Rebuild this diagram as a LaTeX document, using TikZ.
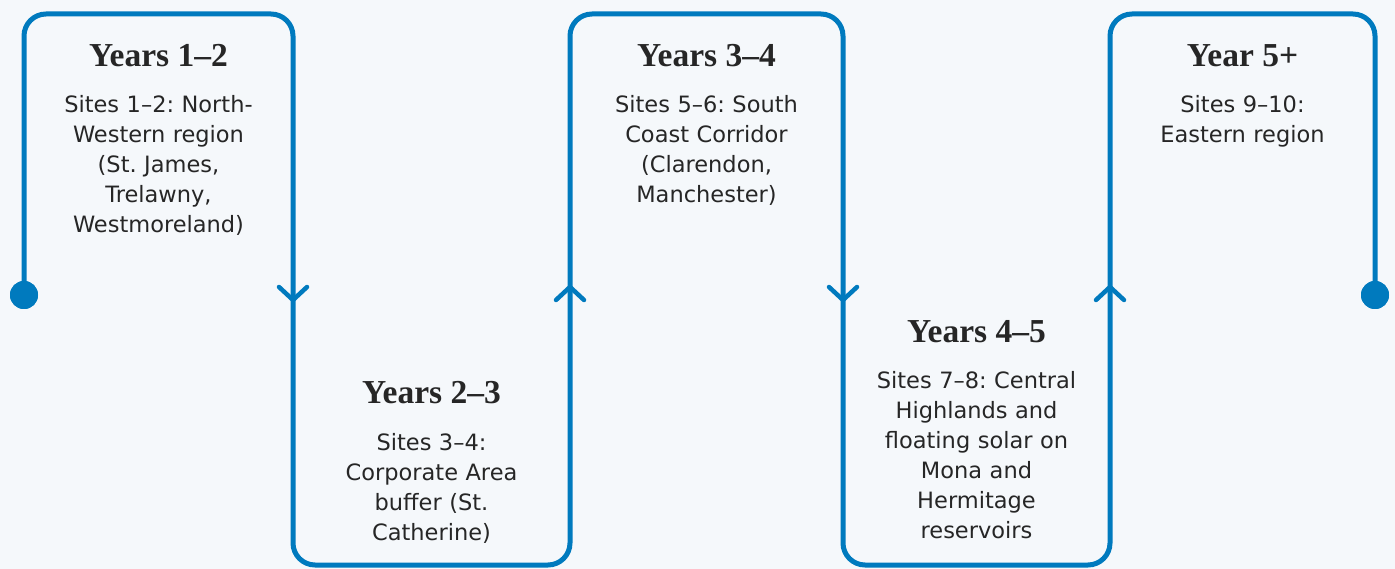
\documentclass[tikz,border=0pt]{standalone}
\usepackage{fontspec}
\newfontfamily\headfont{Liberation Serif}
\newfontfamily\sitefont{DejaVu Sans}
\definecolor{routeblue}{HTML}{007ABE}
\definecolor{inkgray}{HTML}{262626}
\definecolor{paper}{HTML}{F5F8FB}
\frenchspacing

\begin{document}
\begin{tikzpicture}[x=1pt, y=-1pt,
	route/.style={line width=5pt, draw=routeblue, rounded corners=22pt, line cap=round},
	chev/.style={line width=4.5pt, draw=routeblue, line cap=round, line join=round},
	endpt/.style={circle, fill=routeblue, inner sep=0pt, minimum size=28pt},
	phase/.style={font=\headfont\bfseries\fontsize{33.5}{36}\selectfont, text=inkgray, anchor=base, inner sep=0pt},
	sites/.style={font=\sitefont\fontsize{22.5}{30}\selectfont, text=inkgray, align=center, text width=260pt, anchor=base, inner sep=0pt},
	flowdown/.pic={\draw[chev] (-14,-13) -- (0,0) -- (14,-13);},
	flowup/.pic={\draw[chev] (-14,13) -- (0,0) -- (14,13);},
]
	% canvas
	\fill[paper] (0,0) rectangle (1395,569);
	\useasboundingbox (0,0) rectangle (1395,569);

	% end points and bends of the route
	\node[endpt] (start) at (24,295) {};
	\node[endpt] (finish) at (1375,295) {};
	\coordinate (bend1) at (293,14);
	\coordinate (bend2) at (570,565);
	\coordinate (bend3) at (843,14);
	\coordinate (bend4) at (1110,565);
	\coordinate (bend5) at (1375,14);

	% serpentine route
	\draw[route] (start.center) |- (bend1) |- (bend2) |- (bend3) |- (bend4) |- (bend5) -- (finish.center);
	\node[endpt] at (start) {};
	\node[endpt] at (finish) {};

	% direction marks
	\pic at (293,300) {flowdown};
	\pic at (570,287) {flowup};
	\pic at (843,300) {flowdown};
	\pic at (1110,287) {flowup};

	% Years 1-2 (top)
	\node[phase] (p1) at (158.5,67) {Years 1–2};
	\node[sites] (s1) at (158.5,113) {Sites 1–2: North-\\Western region\\(St. James,\\Trelawny,\\Westmoreland)};

	% Years 2-3 (bottom)
	\node[phase] (p2) at (431.5,403) {Years 2–3};
	\node[sites] (s2) at (431.5,450) {Sites 3–4:\\Corporate Area\\buffer (St.\\Catherine)};

	% Years 3-4 (top)
	\node[phase] (p3) at (706.5,67) {Years 3–4};
	\node[sites] (s3) at (706.5,113) {Sites 5–6: South\\Coast Corridor\\(Clarendon,\\Manchester)};

	% Years 4-5 (bottom)
	\node[phase] (p4) at (976.5,342) {Years 4–5};
	\node[sites] (s4) at (976.5,388) {Sites 7–8: Central\\Highlands and\\floating solar on\\Mona and\\Hermitage\\reservoirs};

	% Year 5+ (top)
	\node[phase] (p5) at (1242.5,67) {Year 5+};
	\node[sites] (s5) at (1242.5,113) {Sites 9–10:\\Eastern region};

\end{tikzpicture}
\end{document}
